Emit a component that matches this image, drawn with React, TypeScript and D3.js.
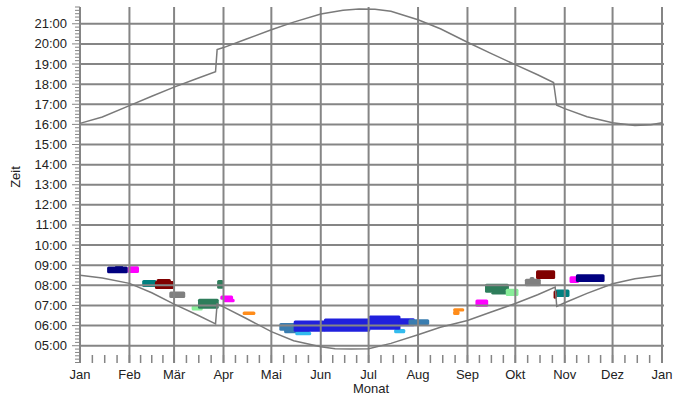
import React from "react";
import * as d3 from "d3";

const MONTH_LABELS = ["Jan", "Feb", "Mär", "Apr", "Mai", "Jun", "Jul", "Aug", "Sep", "Okt", "Nov", "Dez", "Jan"];
const HOUR_LABELS = ["05:00", "06:00", "07:00", "08:00", "09:00", "10:00", "11:00", "12:00", "13:00", "14:00", "15:00", "16:00", "17:00", "18:00", "19:00", "20:00", "21:00"];

const SUNRISE_DATES = ["01-01", "01-15", "02-01", "02-15", "03-01", "03-15", "03-27", "03-28", "04-01", "04-15", "05-01", "05-15", "06-01", "06-10", "06-20", "07-01", "07-15", "08-01", "08-15", "09-01", "09-15", "10-01", "10-15", "10-26", "10-27", "11-01", "11-15", "12-01", "12-15", "13-01"];
const SUNRISE_TIMES = ["08:30", "08:22", "08:06", "07:38", "07:04", "06:33", "06:05", "07:05", "06:56", "06:22", "05:42", "05:15", "04:57", "04:51", "04:50", "04:51", "05:07", "05:33", "05:55", "06:15", "06:39", "07:06", "07:32", "07:55", "06:57", "07:08", "07:36", "08:05", "08:20", "08:30"];

const SUNSET_DATES = ["01-01", "01-15", "02-01", "02-15", "03-01", "03-15", "03-27", "03-28", "04-01", "04-15", "05-01", "05-15", "06-01", "06-15", "06-25", "07-05", "07-15", "08-01", "08-15", "09-01", "09-15", "10-01", "10-15", "10-25", "10-27", "11-01", "11-15", "12-01", "12-15", "12-25", "13-01"];
const SUNSET_TIMES = ["16:03", "16:22", "16:56", "17:24", "17:51", "18:16", "18:37", "19:43", "19:49", "20:14", "20:42", "21:05", "21:29", "21:40", "21:44", "21:43", "21:37", "21:12", "20:45", "20:05", "19:33", "18:58", "18:28", "18:05", "16:57", "16:47", "16:23", "16:05", "15:57", "15:59", "16:05"];

// event categories
const CATEGORY_COLORS = ["#000080", "#ff00ff", "#008080", "#800000", "#808080", "#88ee99", "#2e7d5b", "#ff8c1a", "#3a7db0", "#33bbee", "#2020dd"];

// [start, end, from, to, category]
const EVENTS: [string, string, string, string, number][] = [
  ["01-18", "01-31", "08:36", "08:56", 0],
  ["01-23", "01-28", "08:50", "09:00", 0],
  ["01-31", "02-07", "08:37", "08:57", 1],
  ["02-09", "02-18", "07:55", "08:16", 2],
  ["02-17", "03-01", "07:49", "08:13", 3],
  ["02-18", "02-27", "08:10", "08:19", 3],
  ["02-26", "03-08", "07:22", "07:42", 4],
  ["03-12", "03-19", "06:45", "07:00", 5],
  ["03-16", "03-29", "06:50", "07:20", 6],
  ["03-28", "04-01", "07:50", "08:16", 6],
  ["03-30", "04-07", "07:17", "07:30", 1],
  ["04-01", "04-08", "07:10", "07:20", 1],
  ["04-13", "04-21", "06:32", "06:42", 7],
  ["05-06", "05-18", "05:45", "06:08", 8],
  ["05-09", "05-25", "05:37", "05:52", 8],
  ["05-16", "05-26", "05:31", "05:42", 9],
  ["07-17", "07-24", "05:37", "05:50", 9],
  ["05-15", "06-04", "05:42", "06:15", 10],
  ["06-03", "07-02", "05:42", "06:21", 10],
  ["07-01", "07-21", "05:48", "06:30", 10],
  ["07-20", "07-30", "05:58", "06:22", 10],
  ["07-26", "08-08", "06:02", "06:19", 8],
  ["08-23", "08-30", "06:42", "06:52", 7],
  ["08-23", "08-27", "06:32", "06:44", 7],
  ["09-06", "09-14", "06:56", "07:18", 1],
  ["09-12", "09-27", "07:38", "08:05", 6],
  ["09-16", "09-27", "07:33", "07:40", 6],
  ["09-25", "10-03", "07:28", "07:50", 5],
  ["10-07", "10-17", "07:57", "08:20", 4],
  ["10-10", "10-13", "08:15", "08:25", 4],
  ["10-14", "10-26", "08:19", "08:45", 3],
  ["10-26", "11-04", "07:25", "07:48", 2],
  ["10-25", "10-27", "07:20", "07:45", 3],
  ["11-04", "11-10", "08:07", "08:27", 1],
  ["11-08", "11-26", "08:10", "08:33", 0],
];

const YEAR = 2023;
const parseDate = (s: string) => {
  const [m, d] = s.split("-").map(Number);
  return new Date(Date.UTC(YEAR, m - 1, d));
};
const parseTime = (s: string) => {
  const [h, m] = s.split(":").map(Number);
  return h + m / 60;
};

const W = 673;
const H = 396;
const GRID = "#858585";
const FONT = "'Liberation Sans', Arial, sans-serif";

export default function App() {
  const x = d3.scaleUtc().domain([new Date(Date.UTC(YEAR, 0, 1)), new Date(Date.UTC(YEAR + 1, 0, 1))]).range([80, 662]);
  const y = d3.scaleLinear().domain([4 + 10 / 60, 21 + 50 / 60]).range([362.5, 7]);

  const monthStarts = d3.utcMonths(new Date(Date.UTC(YEAR, 0, 1)), new Date(Date.UTC(YEAR + 1, 0, 2)));
  const quarterTicks: number[] = [];
  for (let i = 0; i < monthStarts.length - 1; i++) {
    const a = x(monthStarts[i]);
    const b = x(monthStarts[i + 1]);
    for (let k = 0; k < 4; k++) quarterTicks.push(a + ((b - a) * k) / 4);
  }
  quarterTicks.push(x(monthStarts[monthStarts.length - 1]));

  const minorY: number[] = [];
  for (let t = 4 + 10 / 60; t <= 21 + 50 / 60 + 1e-6; t += 10 / 60) minorY.push(t);

  const line = d3
    .line<[Date, number]>()
    .x((d) => x(d[0]))
    .y((d) => y(d[1]));
  const sunrise = line(SUNRISE_DATES.map((d, i) => [parseDate(d), parseTime(SUNRISE_TIMES[i])]));
  const sunset = line(SUNSET_DATES.map((d, i) => [parseDate(d), parseTime(SUNSET_TIMES[i])]));

  return (
    <svg width={W} height={H} style={{ position: "absolute", left: 0, top: 0, background: "#fff" }} fontFamily={FONT}>
      <rect x={0} y={0} width={W} height={H} fill="#fff" />
      {/* events */}
      <g>
        {EVENTS.map(([s, e, f, t, c], i) => {
          const x0 = x(parseDate(s));
          const x1 = x(parseDate(e));
          const y0 = y(parseTime(t));
          const y1 = y(parseTime(f));
          return <rect key={i} x={x0} y={y0} width={x1 - x0} height={y1 - y0} rx={1.5} fill={CATEGORY_COLORS[c]} />;
        })}
      </g>
      {/* grid */}
      <g stroke={GRID} strokeWidth={2}>
        {HOUR_LABELS.map((h, i) => (
          <line key={i} x1={80} x2={664} y1={y(parseTime(h))} y2={y(parseTime(h))} />
        ))}
        {monthStarts.map((m, i) => (
          <line key={i} x1={x(m)} x2={x(m)} y1={7} y2={363} />
        ))}
      </g>
      {/* y axis ticks */}
      <g stroke={GRID} strokeWidth={1}>
        {minorY.map((t, i) => {
          const isHour = Math.abs(t - Math.round(t)) < 1e-6;
          return <line key={i} x1={isHour ? 72 : 75} x2={80} y1={y(t)} y2={y(t)} />;
        })}
      </g>
      {/* x axis ticks */}
      <g stroke={GRID} strokeWidth={1.5}>
        {quarterTicks.map((tx, i) => (
          <line key={i} x1={tx} x2={tx} y1={355} y2={363} />
        ))}
      </g>
      {/* sun curves */}
      <path d={sunrise || ""} fill="none" stroke="#7a7a7a" strokeWidth={1.5} />
      <path d={sunset || ""} fill="none" stroke="#7a7a7a" strokeWidth={1.5} />
      {/* labels */}
      <g fontSize={13} fill="#222">
        {HOUR_LABELS.map((h, i) => (
          <text key={i} x={67} y={y(parseTime(h))} textAnchor="end" dominantBaseline="central">
            {h}
          </text>
        ))}
        {monthStarts.map((m, i) => (
          <text key={i} x={x(m)} y={379} textAnchor="middle">
            {MONTH_LABELS[i]}
          </text>
        ))}
        <text x={371} y={393} textAnchor="middle">Monat</text>
        <text transform="translate(15,177) rotate(-90)" textAnchor="middle" dominantBaseline="central">Zeit</text>
      </g>
    </svg>
  );
}
